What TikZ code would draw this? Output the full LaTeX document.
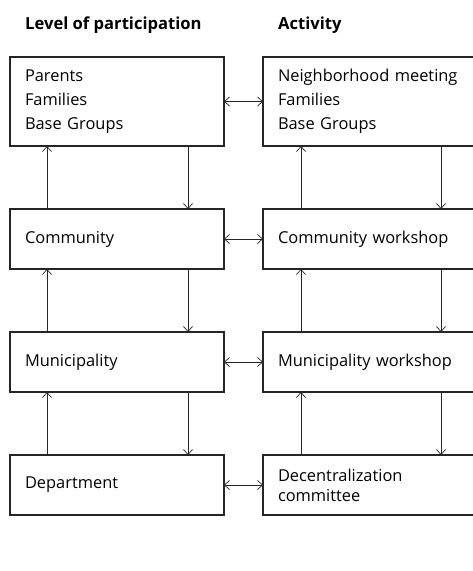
\documentclass[tikz,border=0pt]{standalone}
\usepackage{fontspec}
\setmainfont{Open Sans}
\usetikzlibrary{positioning,arrows.meta,calc}

\begin{document}
\begin{tikzpicture}[
    node distance=63pt and 39pt,
    box/.style={rectangle, draw=black!85, line width=1.1pt, minimum width=214pt, minimum height=60pt, text width=184pt, inner xsep=15pt, outer sep=0pt, align=left, font=\fontsize{16.4}{20}\selectfont},
    arrow/.style={-{Straight Barb[length=5pt,width=9pt]}, line width=0.7pt, black!85},
    dblarrow/.style={{Straight Barb[length=5pt,width=9pt]}-{Straight Barb[length=5pt,width=9pt]}, line width=0.7pt, black!85},
    label/.style={font=\bfseries\fontsize{16.6}{18}\selectfont, anchor=base west, inner sep=0pt}
]
    \useasboundingbox (0,0) rectangle (473pt,-571pt);

    % Level of participation
    \node[box, minimum height=89pt, anchor=north west, font=\fontsize{16.4}{24}\selectfont] (parents) at (10pt,-57pt) {Parents\\Families\\Base Groups};
    \node[box, below=of parents] (community) {Community};
    \node[box, below=of community] (municipality) {Municipality};
    \node[box, below=of municipality] (department) {Department};

    % Activity
    \node[box, minimum height=89pt, right=of parents, font=\fontsize{16.4}{24}\selectfont] (meeting) {Neighborhood meeting\\Families\\Base Groups};
    \node[box, right=of community] (commws) {Community workshop};
    \node[box, right=of municipality] (munws) {Municipality workshop};
    \node[box, right=of department] (committee) {Decentralization\\committee};

    % Arrows between columns
    \draw[dblarrow] (parents) -- (meeting);
    \draw[dblarrow] (community) -- (commws);
    \draw[dblarrow] (municipality) -- (munws);
    \draw[dblarrow] (department) -- (committee);

    % Arrows up
    \draw[arrow] ([xshift=37pt]community.north west) -- ([xshift=37pt]parents.south west);
    \draw[arrow] ([xshift=37pt]municipality.north west) -- ([xshift=37pt]community.south west);
    \draw[arrow] ([xshift=37pt]department.north west) -- ([xshift=37pt]municipality.south west);
    \draw[arrow] ([xshift=38pt]commws.north west) -- ([xshift=38pt]meeting.south west);
    \draw[arrow] ([xshift=38pt]munws.north west) -- ([xshift=38pt]commws.south west);
    \draw[arrow] ([xshift=38pt]committee.north west) -- ([xshift=38pt]munws.south west);

    % Arrows down
    \draw[arrow] ([xshift=-36pt]parents.south east) -- ([xshift=-36pt]community.north east);
    \draw[arrow] ([xshift=-36pt]community.south east) -- ([xshift=-36pt]municipality.north east);
    \draw[arrow] ([xshift=-36pt]municipality.south east) -- ([xshift=-36pt]department.north east);
    \draw[arrow] ([xshift=-36pt]meeting.south east) -- ([xshift=-36pt]commws.north east);
    \draw[arrow] ([xshift=-36pt]commws.south east) -- ([xshift=-36pt]munws.north east);
    \draw[arrow] ([xshift=-36pt]munws.south east) -- ([xshift=-36pt]committee.north east);

    % Labels
    \node[label] (levelhead) at (25pt,-29pt) {Level of participation};
    \node[label] (activityhead) at (278pt,-29pt) {Activity};
\end{tikzpicture}
\end{document}
